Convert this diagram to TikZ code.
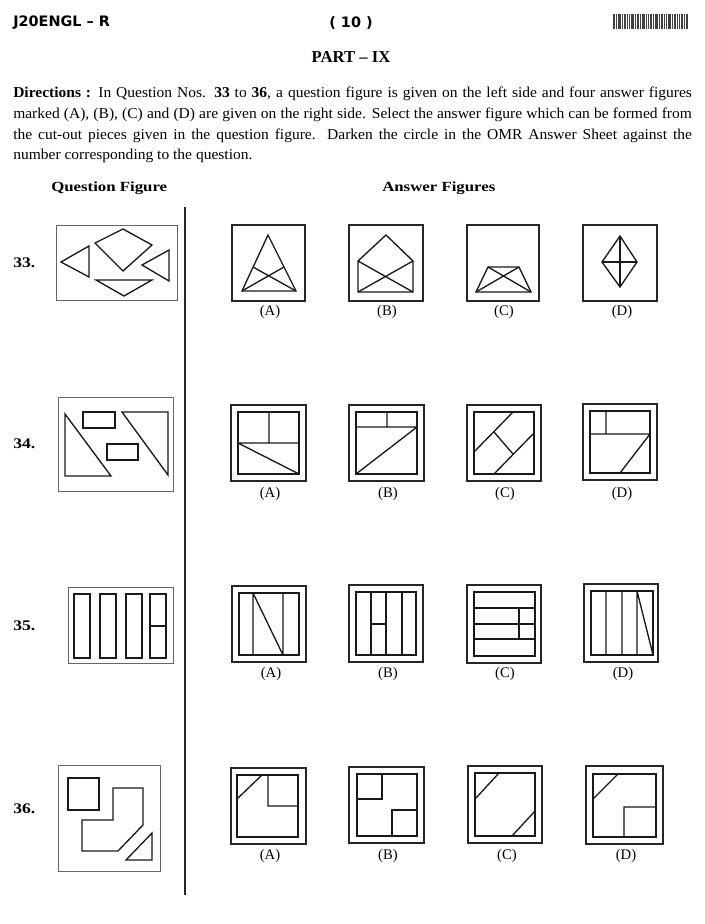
\documentclass[tikz,border=0pt]{standalone}
\usepackage{fontspec}
\setmainfont{Liberation Serif}
\newfontfamily\bodyfont[FakeStretch=1.03,Ligatures=TeX]{Liberation Serif}
\newfontfamily\hdfont[FakeStretch=1.2]{Liberation Serif}
\newfontfamily\sansbold{DejaVu Sans}
\begin{document}
\begin{tikzpicture}[x=0.75pt,y=-0.75pt,
  fig/.style={line width=1.0pt,black!90},
  qbox/.style={line width=0.6pt,black!60},
  obox/.style={line width=1.0pt,black!85},
  txt/.style={inner sep=0pt,font=\fontsize{11.3}{13}\bodyfont},
  lbl/.style={inner sep=0pt,font=\fontsize{11}{13}\selectfont},
  qnum/.style={inner sep=0pt,anchor=west,font=\fontsize{11}{13}\hdfont\bfseries},
  head/.style={inner sep=0pt,anchor=base west,font=\fontsize{10.5}{12}\hdfont\bfseries},
  barstyle/.style={fill=black!75,draw=none}]
\useasboundingbox (0,0) rectangle (705,924);
\fill[white] (0,0) rectangle (705,924);

% ---------- header ----------
\node[inner sep=0pt,anchor=west,font=\fontsize{10.8}{12}\sansbold\bfseries] (code) at (13,23) {J20ENGL \textendash{} R};
\node[inner sep=0pt,font=\fontsize{10.8}{12}\sansbold\bfseries] (page) at (351,23) {( 10 )};
\foreach \bx/\bw in {613/2,616/1,618/2.5,622/1,624/2,627/1,629/1,631/2.5,635/1,637/2,640/1,642/2.5,646/1,648/1,650/2,653/1,655/2.5,659/1,661/2,664/1,666/1,668/2.5,672/1,674/2,677/1,679/1,681/2,684/1,686/1.5}
  \fill[barstyle] (\bx,14) rectangle ++(\bw,15);
\node[inner sep=0pt,font=\fontsize{12.5}{14}\selectfont\bfseries] (part) at (351,57) {PART \textendash{} IX};

% ---------- directions ----------
\node[txt,anchor=base west] (d1) at (13,98) {\makebox[509pt][s]{\textbf{Directions :} In Question Nos. \textbf{33} to \textbf{36}, a question figure is given on the left side and four answer figures}};
\node[txt,anchor=base west] (d2) at (13,118.5) {\makebox[509pt][s]{marked (A), (B), (C) and (D) are given on the right side. Select the answer figure which can be formed from}};
\node[txt,anchor=base west] (d3) at (13,139) {\makebox[509pt][s]{the cut-out pieces given in the question figure. Darken the circle in the OMR Answer Sheet against the}};
\node[txt,anchor=base west] (d4) at (13,159.5) {number corresponding to the question.};

% ---------- column headings ----------
\node[head] (qf) at (51,191) {Question Figure};
\node[head] (af) at (382,191) {Answer Figures};
\draw[line width=1.0pt,black!85] (185,207) -- (185,895);

% ---------- question numbers ----------
\node[qnum] (n33) at (13,263) {33.};
\node[qnum] (n34) at (13,444) {34.};
\node[qnum] (n35) at (13,626) {35.};
\node[qnum] (n36) at (13,809) {36.};

% ================= Q33 =================
\draw[qbox] (56,225) rectangle (177,300);
\draw[fig] (61,262) -- (89,246) -- (89,277) -- cycle;
\draw[fig] (95,243) -- (123,229) -- (152,245) -- (123,271) -- cycle;
\draw[fig] (142,265) -- (169,250) -- (169,281) -- cycle;
\draw[fig] (96,280) -- (152,280) -- (124,296) -- cycle;
% A
\draw[obox] (232,225) rectangle (305,301);
\draw[fig] (268,235) -- (242,291) -- (296,291) -- cycle;
\draw[fig] (242,291) -- (284,267) (296,291) -- (253,267);
% B
\draw[obox] (349,225) rectangle (423,301);
\draw[fig] (386,235) -- (358,261) -- (358,292) -- (413,292) -- (413,261) -- cycle;
\draw[fig] (358,261) -- (413,292) (413,261) -- (358,292);
% C
\draw[obox] (467,225) rectangle (539,301);
\draw[fig] (488,267) -- (519,267) -- (531,292) -- (476,292) -- cycle;
\draw[fig] (488,267) -- (531,292) (519,267) -- (476,292);
% D
\draw[obox] (583,225) rectangle (657,301);
\draw[fig] (620,236) -- (637,262) -- (620,287) -- (602,262) -- cycle;
\draw[fig] (620,236) -- (620,287) (602,262) -- (637,262);
\node[lbl] (l33a) at (270,312) {(A)};
\node[lbl] (l33b) at (387,312) {(B)};
\node[lbl] (l33c) at (504,312) {(C)};
\node[lbl] (l33d) at (622,312) {(D)};

% ================= Q34 =================
\draw[qbox] (58,397) rectangle (173,491);
\draw[fig] (65,414) -- (65,476) -- (111,476) -- cycle;
\draw[fig] (83,412) rectangle (115,428);
\draw[fig] (107,444) rectangle (138,460);
\draw[fig] (122,412) -- (168,412) -- (168,475) -- cycle;
% A
\draw[obox] (231,405) rectangle (306,481);
\draw[fig] (238,412) rectangle (299,474);
\draw[fig] (269,412) -- (269,443) (238,443) -- (299,443) (238,443) -- (299,474);
% B
\draw[obox] (349,405) rectangle (424,481);
\draw[fig] (356,412) rectangle (417,474);
\draw[fig] (356,427) -- (417,427) (387,412) -- (387,427) (356,474) -- (417,427);
% C
\draw[obox] (467,405) rectangle (541,481);
\draw[fig] (474,412) rectangle (534,474);
\draw[fig] (474,452) -- (513,412) (494,474) -- (534,433) (494,432) -- (513,454);
% D
\draw[obox] (583,404) rectangle (657,480);
\draw[fig] (590,411) rectangle (650,473);
\draw[fig] (606,411) -- (606,434) (590,434) -- (650,434) (620,473) -- (650,434);
\node[lbl] (l34a) at (270,494) {(A)};
\node[lbl] (l34b) at (388,494) {(B)};
\node[lbl] (l34c) at (505,494) {(C)};
\node[lbl] (l34d) at (622,494) {(D)};

% ================= Q35 =================
\draw[qbox] (68,587) rectangle (173,663);
\draw[fig] (74,594) rectangle (90,658);
\draw[fig] (100,594) rectangle (116,658);
\draw[fig] (126,594) rectangle (142,658);
\draw[fig] (150,594) rectangle (166,658);
\draw[fig] (150,626) -- (166,626);
% A
\draw[obox] (232,586) rectangle (306,662);
\draw[fig] (239,593) rectangle (299,655);
\draw[fig] (253,593) -- (253,655) (283,593) -- (283,655) (253,593) -- (283,655);
% B
\draw[obox] (349,585) rectangle (423,662);
\draw[fig] (356,592) rectangle (416,655);
\draw[fig] (371,592) -- (371,655) (386,592) -- (386,655) (402,592) -- (402,655) (371,624) -- (386,624);
% C
\draw[obox] (467,585) rectangle (541,663);
\draw[fig] (474,592) rectangle (535,656);
\draw[fig] (474,608) -- (535,608) (474,624) -- (535,624) (474,639) -- (535,639) (519,608) -- (519,639);
% D
\draw[obox] (584,584) rectangle (658,662);
\draw[fig] (591,591) rectangle (653,655);
\draw[fig] (606,591) -- (606,655) (622,591) -- (622,655) (637,591) -- (637,655) (637,591) -- (653,655);
\node[lbl] (l35a) at (271,674) {(A)};
\node[lbl] (l35b) at (388,674) {(B)};
\node[lbl] (l35c) at (505,674) {(C)};
\node[lbl] (l35d) at (623,674) {(D)};

% ================= Q36 =================
\draw[qbox] (58,765) rectangle (160,871);
\draw[fig] (68,778) rectangle (99,810);
\draw[fig] (113,788) -- (143,788) -- (143,825) -- (118,851) -- (82,851) -- (82,820) -- (113,820) -- cycle;
\draw[fig] (152,833) -- (152,860) -- (126,860) -- cycle;
% A
\draw[obox] (231,768) rectangle (306,844);
\draw[fig] (237,775) rectangle (298,837);
\draw[fig] (237,799) -- (262,775) (268,775) -- (268,806) -- (298,806);
% B
\draw[obox] (349,767) rectangle (424,843);
\draw[fig] (357,774) rectangle (417,836);
\draw[fig] (382,774) -- (382,799) -- (357,799) (392,836) -- (392,810) -- (417,810);
% C
\draw[obox] (468,766) rectangle (542,843);
\draw[fig] (475,773) rectangle (535,836);
\draw[fig] (475,799) -- (499,773) (512,836) -- (535,811);
% D
\draw[obox] (586,766) rectangle (663,844);
\draw[fig] (593,774) rectangle (656,837);
\draw[fig] (593,799) -- (618,774) (624,837) -- (624,807) -- (656,807);
\node[lbl] (l36a) at (270,856) {(A)};
\node[lbl] (l36b) at (388,856) {(B)};
\node[lbl] (l36c) at (507,856) {(C)};
\node[lbl] (l36d) at (626,856) {(D)};
\end{tikzpicture}
\end{document}
